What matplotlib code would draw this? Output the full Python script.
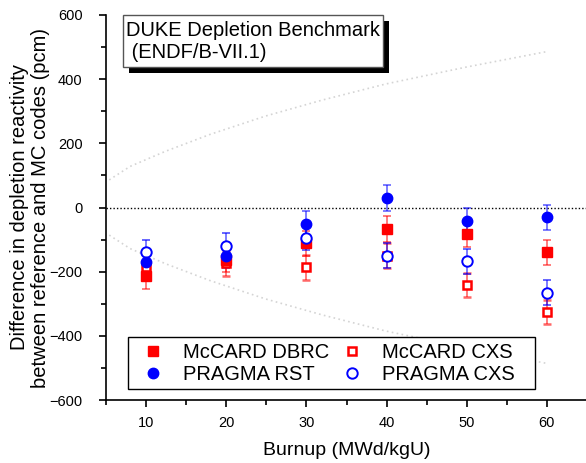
import matplotlib
matplotlib.use("Agg")
import matplotlib.pyplot as plt
from matplotlib.lines import Line2D
from matplotlib.patches import Rectangle
from matplotlib.ticker import MultipleLocator, FuncFormatter

plt.rcParams['font.family'] = ['Liberation Sans', 'DejaVu Sans']

burnup = [10, 20, 30, 40, 50, 60]
mccard_dbrc = [-215, -164, -112, -68, -84, -140]
mccard_cxs = [-184, -174, -187, -150, -242, -326]
pragma_rst = [-171, -150, -51, 29, -42, -31]
pragma_cxs = [-138, -119, -94, -150, -168, -265]
err_dbrc = [40, 38, 40, 41, 40, 40]
err_mcxs = [38, 38, 38, 40, 38, 38]
err_rst = [38, 38, 40, 40, 40, 40]
err_pcxs = [38, 40, 40, 40, 40, 40]

band_x = [5.4, 8, 12.4, 18, 24.9, 32, 39.9, 50, 59.8]
band_upper = [86, 128, 175, 228, 285, 335, 385, 438, 485]
band_lower = [-86, -128, -175, -228, -285, -335, -385, -438, -485]

W, H = 586, 463
fig = plt.figure(figsize=(W/100, H/100), dpi=100)
ax = fig.add_axes([106/W, 1-400/H, (587-106)/W, (400-15)/H])

ax.plot(band_x, band_upper, color='#d4d4d4', ls=(0, (1, 2)), lw=1.2)
ax.plot(band_x, band_lower, color='#d4d4d4', ls=(0, (1, 2)), lw=1.2)
ax.axhline(0, color='black', ls=(0, (1, 1.5)), lw=1.0, zorder=1)

red = '#ff0000'
blue = '#0000ff'
kw = dict(ls='none', capsize=3.2, elinewidth=1.2, capthick=1.2)
ax.errorbar(burnup, mccard_cxs, yerr=err_mcxs, marker='s', ms=5.5, mfc='white', mec=red, mew=1.8,
            ecolor=(1, 0, 0, 0.6), **kw)
ax.errorbar(burnup, mccard_dbrc, yerr=err_dbrc, marker='s', ms=7, mfc=red, mec=red,
            ecolor=(1, 0, 0, 0.6), **kw)
ax.errorbar(burnup, pragma_cxs, yerr=err_pcxs, marker='o', ms=7.5, mfc='white', mec=blue, mew=1.4,
            ecolor=(0, 0, 1, 0.6), **kw)
ax.errorbar(burnup, pragma_rst, yerr=err_rst, marker='o', ms=7.5, mfc=blue, mec=blue,
            ecolor=(0, 0, 1, 0.6), **kw)

ax.set_xlim(5, 65)
ax.set_ylim(-600, 600)
ax.xaxis.set_major_locator(MultipleLocator(10))
ax.xaxis.set_minor_locator(MultipleLocator(5))
ax.yaxis.set_major_locator(MultipleLocator(200))
ax.yaxis.set_minor_locator(MultipleLocator(100))
ax.spines['top'].set_visible(False)
ax.spines['right'].set_visible(False)
for s in ('left', 'bottom'):
    ax.spines[s].set_linewidth(1.2)
ax.tick_params(which='major', direction='out', length=5, width=1.2, labelsize=10.5)
ax.tick_params(which='minor', direction='out', length=3.5, width=1.2)
ax.tick_params(axis='y', which='major', pad=12)
ax.tick_params(axis='x', which='major', pad=6.5)
ax.yaxis.set_major_formatter(FuncFormatter(lambda v, p: f"{int(v)}".replace('-', '\u2212')))
ax.set_xlabel('Burnup (MWd/kgU)', fontsize=14, labelpad=9)
ax.set_ylabel('Difference in depletion reactivity\nbetween reference and MC codes (pcm)',
              fontsize=14.5, multialignment='center', labelpad=-0.5, linespacing=1.15)

def fx(px):
    return px / W
def fy(py):
    return 1 - py / H

# annotation box with shadow
fig.patches.append(Rectangle((fx(129), fy(73)), fx(383) - fx(123), fy(15) - fy(67),
                             transform=fig.transFigure, facecolor='black', edgecolor='none', zorder=5))
fig.patches.append(Rectangle((fx(123), fy(67)), fx(383) - fx(123), fy(15) - fy(67),
                             transform=fig.transFigure, facecolor='white', edgecolor='#555555', lw=1, zorder=6))
fig.text(fx(126), fy(21), 'DUKE Depletion Benchmark\n (ENDF/B-VII.1)', fontsize=14.5,
         va='top', ha='left', zorder=7, linespacing=1.2)

# legend frame
fig.patches.append(Rectangle((fx(128), fy(389)), fx(535) - fx(128), fy(337) - fy(389),
                             transform=fig.transFigure, facecolor='white', edgecolor='black', lw=1, zorder=8))
handles = [
    Line2D([], [], ls='none', marker='s', ms=7, mfc=red, mec=red),
    Line2D([], [], ls='none', marker='o', ms=7.5, mfc=blue, mec=blue),
    Line2D([], [], ls='none', marker='s', ms=5.5, mfc='white', mec=red, mew=1.8),
    Line2D([], [], ls='none', marker='o', ms=7.5, mfc='white', mec=blue, mew=1.4),
]
labels = ['McCARD DBRC', 'PRAGMA RST', 'McCARD CXS', 'PRAGMA CXS']
leg = fig.legend(handles, labels, ncol=2, loc='upper left',
                 bbox_to_anchor=(fx(143), fy(343)), fontsize=14.5, frameon=False,
                 borderpad=0, handletextpad=1.0, columnspacing=0.6,
                 labelspacing=0.15, handlelength=1.0, borderaxespad=0)
leg.set_zorder(9)

fig.savefig('out.png', dpi=100)
